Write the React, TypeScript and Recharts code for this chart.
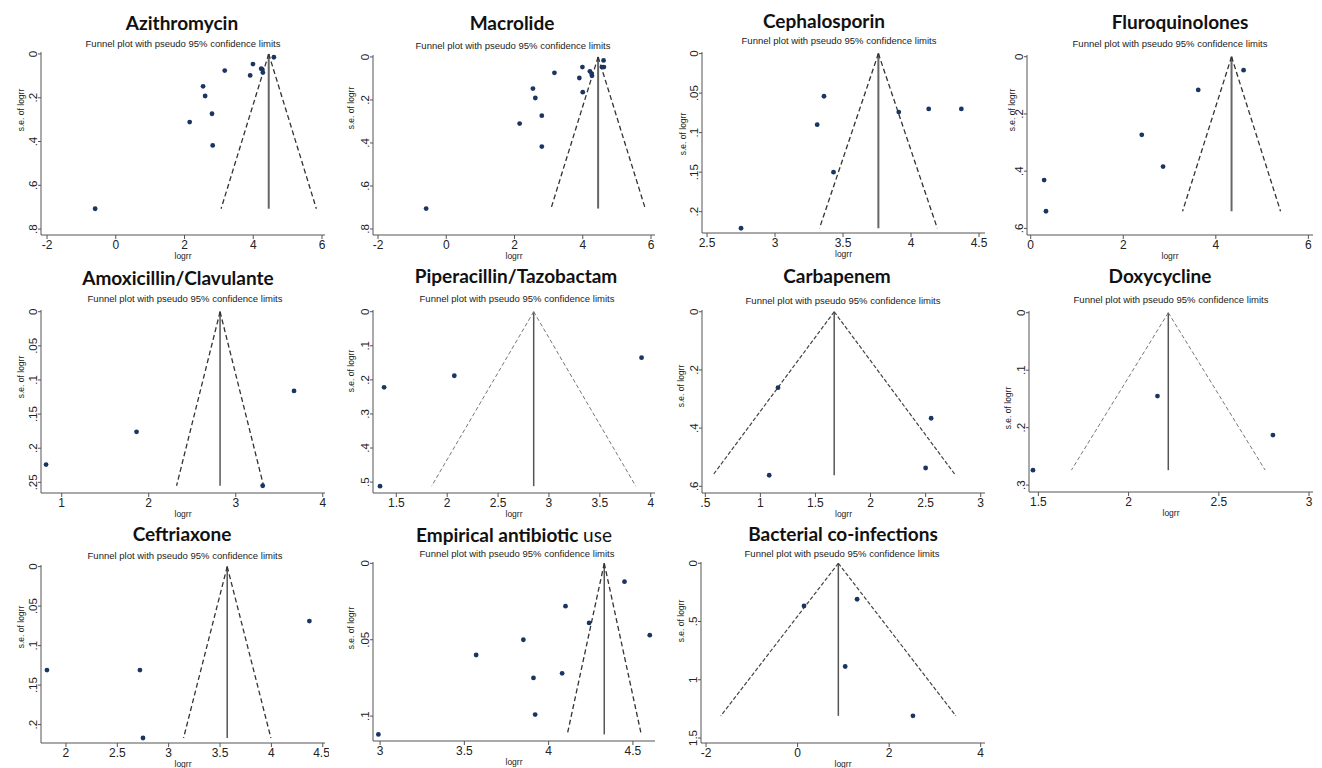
import React from 'react';
import { ScatterChart, Scatter, XAxis, YAxis, ReferenceLine } from 'recharts';

// logrr and s.e. of logrr for every study
const azithroLogrr = [4.6, 3.99, 4.23, 4.26, 4.28, 3.17, 3.91, 2.54, 2.6, 2.8, 2.15, 2.82, -0.6];
const azithroSe = [0.015, 0.046, 0.067, 0.07, 0.085, 0.076, 0.098, 0.148, 0.192, 0.273, 0.311, 0.418, 0.707];
const azithroPooled = 4.45;

const macroLogrr = [4.61, 4.56, 4.62, 3.99, 4.21, 4.26, 4.27, 3.17, 3.9, 4.0, 2.54, 2.61, 2.8, 2.15, 2.8, -0.59];
const macroSe = [0.016, 0.047, 0.047, 0.047, 0.067, 0.078, 0.088, 0.074, 0.098, 0.164, 0.147, 0.191, 0.273, 0.31, 0.417, 0.705];
const macroPooled = 4.45;

const cephaLogrr = [3.36, 3.31, 3.91, 4.13, 4.37, 3.43, 2.75];
const cephaSe = [0.054, 0.09, 0.074, 0.07, 0.07, 0.15, 0.221];
const cephaPooled = 3.76;

const fluroLogrr = [4.6, 3.62, 2.4, 2.86, 0.29, 0.33];
const fluroSe = [0.047, 0.116, 0.273, 0.384, 0.431, 0.54];
const fluroPooled = 4.34;

const amoxLogrr = [3.67, 1.86, 0.82, 3.31];
const amoxSe = [0.116, 0.176, 0.224, 0.255];
const amoxPooled = 2.82;

const pipLogrr = [3.91, 2.07, 1.38, 1.34];
const pipSe = [0.135, 0.188, 0.222, 0.512];
const pipPooled = 2.85;

const carbLogrr = [1.16, 2.55, 2.5, 1.08];
const carbSe = [0.261, 0.366, 0.537, 0.562];
const carbPooled = 1.67;

const doxyLogrr = [2.16, 2.8, 1.47];
const doxySe = [0.145, 0.213, 0.274];
const doxyPooled = 2.22;

const ceftLogrr = [4.37, 1.815, 2.72, 2.75];
const ceftSe = [0.069, 0.131, 0.131, 0.217];
const ceftPooled = 3.57;

const empLogrr = [4.45, 4.1, 4.24, 4.6, 3.85, 3.57, 4.08, 3.91, 3.92, 2.99];
const empSe = [0.012, 0.028, 0.039, 0.047, 0.05, 0.06, 0.072, 0.075, 0.099, 0.112];
const empPooled = 4.33;

const bactLogrr = [0.14, 1.3, 1.04, 2.52];
const bactSe = [0.366, 0.309, 0.886, 1.31];
const bactPooled = 0.89;

// axis ticks
const ticksWide = [-2, 0, 2, 4, 6];
const ticksSe8 = [0, 0.2, 0.4, 0.6, 0.8];
const ticksCephaX = [2.5, 3, 3.5, 4, 4.5];
const ticksSe02 = [0, 0.05, 0.1, 0.15, 0.2];
const ticksFluroX = [0, 2, 4, 6];
const ticksSe6 = [0, 0.2, 0.4, 0.6];
const ticksAmoxX = [1, 2, 3, 4];
const ticksAmoxY = [0, 0.05, 0.1, 0.15, 0.2, 0.25];
const ticksPipX = [1.5, 2, 2.5, 3, 3.5, 4];
const ticksPipY = [0, 0.1, 0.2, 0.3, 0.4, 0.5];
const ticksCarbX = [0.5, 1, 1.5, 2, 2.5, 3];
const ticksDoxyX = [1.5, 2, 2.5, 3];
const ticksDoxyY = [0, 0.1, 0.2, 0.3];
const ticksCeftX = [2, 2.5, 3, 3.5, 4, 4.5];
const ticksEmpX = [3, 3.5, 4, 4.5];
const ticksEmpY = [0, 0.05, 0.1];
const ticksBactX = [-2, 0, 2, 4];
const ticksBactY = [0, 0.5, 1, 1.5];

const SUBTITLE = 'Funnel plot with pseudo 95% confidence limits';
const SANS = '"Liberation Sans", Arial, sans-serif';
const DOT = '#1b3563';

type Panel = {
  title: React.ReactNode;
  logrr: number[];
  se: number[];
  pooled: number;
  xTicks: number[];
  yTicks: number[];
  xRange: [number, number];
  yRange: [number, number];
  box: number[]; // originX, originY, left, top, right, bottom (page px)
  titleAt: number[];
  subAt: number[];
  yLabAt: number[];
  dash: 'bold' | 'light' | 'fine';
};

const panels: Panel[] = [
  { title: 'Azithromycin', logrr: azithroLogrr, se: azithroSe, pooled: azithroPooled, xTicks: ticksWide, yTicks: ticksSe8,
    xRange: [-2.175, 6.087], yRange: [-0.009, 0.827], box: [0, 0, 41, 52, 325, 235],
    titleAt: [182, 22], subAt: [183, 43], yLabAt: [21, 110], dash: 'bold' },
  { title: 'Macrolide', logrr: macroLogrr, se: macroSe, pooled: macroPooled, xTicks: ticksWide, yTicks: ticksSe8,
    xRange: [-2.147, 6.117], yRange: [-0.009, 0.828], box: [330, 0, 373, 55, 655, 235],
    titleAt: [512, 22], subAt: [513, 45], yLabAt: [351, 108], dash: 'bold' },
  { title: 'Cephalosporin', logrr: cephaLogrr, se: cephaSe, pooled: cephaPooled, xTicks: ticksCephaX, yTicks: ticksSe02,
    xRange: [2.463, 4.544], yRange: [-0.002, 0.227], box: [660, 0, 702, 52, 985, 233],
    titleAt: [824, 20], subAt: [839, 40], yLabAt: [683, 134], dash: 'bold' },
  { title: 'Fluroquinolones', logrr: fluroLogrr, se: fluroSe, pooled: fluroPooled, xTicks: ticksFluroX, yTicks: ticksSe6,
    xRange: [-0.08, 6.1], yRange: [-0.006, 0.623], box: [990, 0, 1027, 55, 1313, 235],
    titleAt: [1180, 21], subAt: [1170, 43], yLabAt: [1012, 110], dash: 'bold' },
  { title: 'Amoxicillin/Clavulante', logrr: amoxLogrr, se: amoxSe, pooled: amoxPooled, xTicks: ticksAmoxX, yTicks: ticksAmoxY,
    xRange: [0.762, 4.026], yRange: [-0.0025, 0.2656], box: [0, 265, 41, 310, 325, 493],
    titleAt: [178, 277], subAt: [185, 298], yLabAt: [21, 377], dash: 'bold' },
  { title: 'Piperacillin/Tazobactam', logrr: pipLogrr, se: pipSe, pooled: pipPooled, xTicks: ticksPipX, yTicks: ticksPipY,
    xRange: [1.271, 4.042], yRange: [-0.005, 0.532], box: [330, 265, 373, 310, 655, 493],
    titleAt: [516, 275], subAt: [517, 298], yLabAt: [351, 371], dash: 'light' },
  { title: 'Carbapenem', logrr: carbLogrr, se: carbSe, pooled: carbPooled, xTicks: ticksCarbX, yTicks: ticksSe6,
    xRange: [0.47, 3.039], yRange: [-0.006, 0.623], box: [660, 265, 702, 310, 985, 493],
    titleAt: [837, 275], subAt: [843, 300], yLabAt: [681, 386], dash: 'fine' },
  { title: 'Doxycycline', logrr: doxyLogrr, se: doxySe, pooled: doxyPooled, xTicks: ticksDoxyX, yTicks: ticksDoxyY,
    xRange: [1.448, 3.022], yRange: [-0.003, 0.312], box: [990, 265, 1029, 311, 1313, 492],
    titleAt: [1160, 275], subAt: [1171, 299], yLabAt: [1008, 408], dash: 'light' },
  { title: 'Ceftriaxone', logrr: ceftLogrr, se: ceftSe, pooled: ceftPooled, xTicks: ticksCeftX, yTicks: ticksSe02,
    xRange: [1.757, 4.522], yRange: [-0.002, 0.2233], box: [0, 510, 41, 565, 325, 743],
    titleAt: [182, 533], subAt: [185, 555], yLabAt: [21, 627], dash: 'bold' },
  { title: <>Empirical antibiotic <span style={{ fontWeight: 400 }}>use</span></>, logrr: empLogrr, se: empSe, pooled: empPooled,
    xTicks: ticksEmpX, yTicks: ticksEmpY,
    xRange: [2.958, 4.631], yRange: [-0.0009, 0.1163], box: [330, 510, 373, 562, 655, 741],
    titleAt: [514, 534], subAt: [517, 553], yLabAt: [351, 628], dash: 'bold' },
  { title: 'Bacterial co-infections', logrr: bactLogrr, se: bactSe, pooled: bactPooled, xTicks: ticksBactX, yTicks: ticksBactY,
    xRange: [-2.11, 4.094], yRange: [-0.011, 1.543], box: [660, 510, 701, 562, 985, 743],
    titleAt: [843, 533], subAt: [842, 553], yLabAt: [681, 621], dash: 'fine' },
];

const dashStyles = {
  bold: { stroke: '#333', strokeWidth: 1.3, strokeDasharray: '5 3' },
  light: { stroke: '#777', strokeWidth: 1, strokeDasharray: '4 2.5' },
  fine: { stroke: '#444', strokeWidth: 1.2, strokeDasharray: '4 2' },
};

// Stata style: drop the leading zero
const fmt = (v: number) => String(v).replace(/^(-?)0\./, '$1.');

const YTick = (props: any) => {
  const { x, y, payload } = props;
  return (
    <text x={x} y={y} transform={`rotate(-90 ${x} ${y})`} textAnchor="middle"
      fontSize={11.5} fill="#222" fontFamily={SANS}>
      {fmt(payload.value)}
    </text>
  );
};

const Dot = (props: any) => <circle cx={props.cx} cy={props.cy} r={2.4} fill={DOT} />;

function Funnel({ p }: { p: Panel }) {
  const [ox, oy, L, T, R, B] = p.box;
  const data = p.logrr.map((x, i) => ({ x, y: p.se[i] }));
  const seMax = Math.max(...p.se);
  const lo = p.pooled - 1.96 * seMax;
  const hi = p.pooled + 1.96 * seMax;
  const d = dashStyles[p.dash];
  const yAxisW = 30;
  const xAxisH = 22;
  const width = R - ox + 4;
  const height = B - oy + xAxisH + 2;
  const centered = { position: 'absolute' as const, transform: 'translate(-50%, -50%)', whiteSpace: 'nowrap' as const };

  return (
    <>
      <div style={{ ...centered, left: p.titleAt[0], top: p.titleAt[1], fontFamily: 'Lato, sans-serif', fontWeight: 700, fontSize: 19, color: '#111' }}>
        {p.title}
      </div>
      <div style={{ ...centered, left: p.subAt[0], top: p.subAt[1], fontFamily: SANS, fontSize: 9.5, color: '#222' }}>
        {SUBTITLE}
      </div>
      <div style={{ ...centered, left: p.yLabAt[0], top: p.yLabAt[1], transform: 'translate(-50%, -50%) rotate(-90deg)', fontFamily: SANS, fontSize: 8.5, color: '#222' }}>
        s.e. of logrr
      </div>
      <div style={{ ...centered, left: (L + R) / 2, top: B + 20.5, fontFamily: SANS, fontSize: 8.5, color: '#222' }}>
        logrr
      </div>
      <div style={{ position: 'absolute', left: ox, top: oy }}>
        <ScatterChart width={width} height={height}
          margin={{ top: T - oy, right: 4, bottom: 2, left: L - ox - yAxisW }}>
          <XAxis type="number" dataKey="x" domain={p.xRange} ticks={p.xTicks} allowDataOverflow
            tickFormatter={fmt} height={xAxisH} tickSize={4} tickMargin={1}
            axisLine={{ stroke: '#555' }} tickLine={{ stroke: '#555' }}
            tick={{ fontSize: 12, fill: '#222', fontFamily: SANS }} />
          <YAxis type="number" dataKey="y" reversed domain={p.yRange} ticks={p.yTicks} allowDataOverflow
            width={yAxisW} tickSize={3} tickMargin={1}
            axisLine={{ stroke: '#555' }} tickLine={{ stroke: '#555' }} tick={<YTick />} />
          <ReferenceLine segment={[{ x: p.pooled, y: 0 }, { x: p.pooled, y: seMax }]}
            stroke={p.box[1] === 0 ? '#666' : '#555'} strokeWidth={p.box[1] === 0 ? 2 : 1.5} />
          <ReferenceLine segment={[{ x: p.pooled, y: 0 }, { x: lo, y: seMax }]} {...d} />
          <ReferenceLine segment={[{ x: p.pooled, y: 0 }, { x: hi, y: seMax }]} {...d} />
          <Scatter data={data} shape={<Dot />} isAnimationActive={false} />
        </ScatterChart>
      </div>
    </>
  );
}

export default function App() {
  return (
    <div style={{ position: 'absolute', left: 0, top: 0, width: 1322, height: 768, background: '#fff', overflow: 'hidden' }}>
      {panels.map((p, i) => <Funnel key={i} p={p} />)}
    </div>
  );
}
